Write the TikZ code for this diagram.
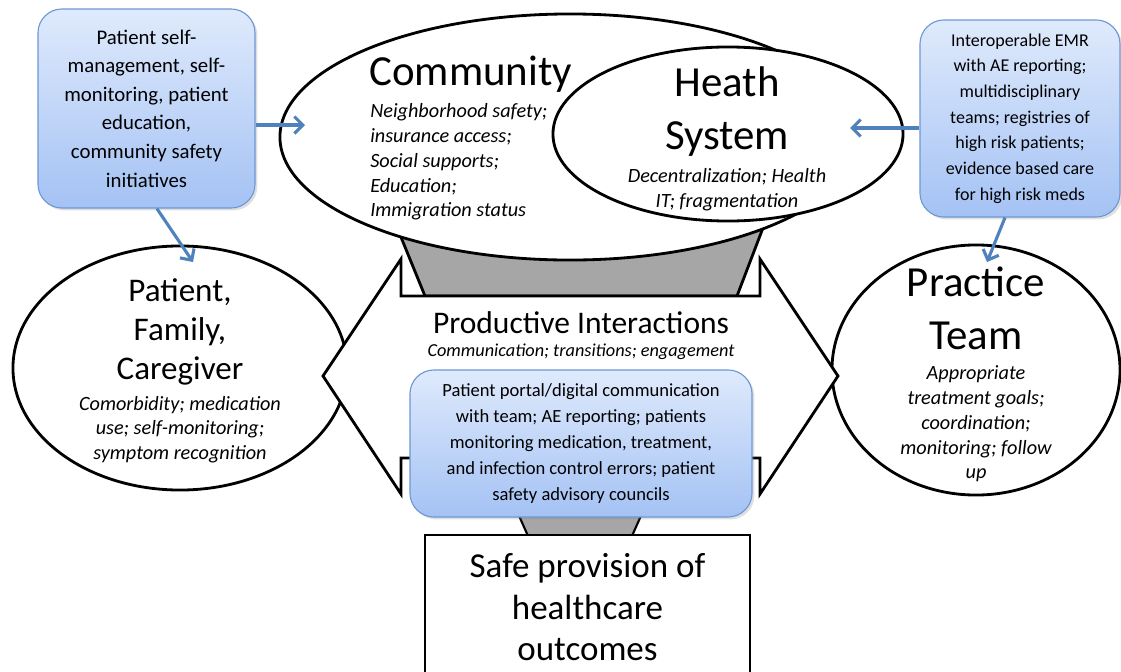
\documentclass[tikz,border=0pt]{standalone}
\usepackage{fontspec}
\setmainfont{Carlito}
\usetikzlibrary{shapes.geometric,arrows.meta,positioning,shadows}

\definecolor{boxtop}{RGB}{223,234,252}
\definecolor{boxbot}{RGB}{164,194,244}
\definecolor{boxline}{RGB}{110,152,212}
\definecolor{arrowblue}{RGB}{79,129,189}
\definecolor{funnel}{RGB}{166,166,166}

\tikzset{
	sphere/.style={draw, ellipse, line width=2pt, fill=white, inner sep=0pt},
	bluebox/.style={draw=boxline, line width=0.8pt, rounded corners=0.6cm, top color=boxtop, bottom color=boxbot, align=center, inner sep=2pt, drop shadow={opacity=0.25, shadow xshift=0.06cm, shadow yshift=-0.06cm}},
	bluearrow/.style={draw=arrowblue, line width=2.2pt, -{Straight Barb[length=6pt,width=12pt]}},
	bigtitle/.style={align=center, inner sep=0pt, font=\fontsize{30.5}{37.7}\selectfont},
	subtext/.style={align=center, inner sep=0pt, font=\fontsize{14.4}{17.6}\selectfont\itshape}
}

\begin{document}
\begin{tikzpicture}[x=0.025cm, y=-0.025cm]
%\draw [help lines,black!20!white] (0,0) grid[step=50] (1121,672);
\useasboundingbox (0,0) rectangle (1121,672);

\draw[line width=2pt, fill=funnel] (394,220) -- (425,296) -- (737,296) -- (766,220);
\draw[line width=1.5pt, fill=funnel] (512,500) -- (528,536) -- (632,536) -- (648,500);

\node[sphere, minimum width=14.5cm, minimum height=6.15cm] (comm) at (570,137) {};
\node[sphere, minimum width=8.75cm, minimum height=4.35cm] (hsys) at (728,134) {};
\node[sphere, minimum width=8.35cm, minimum height=6.1cm] (fam) at (180,368) {};
\node[sphere, minimum width=7.2cm, minimum height=6.25cm] (team) at (976,370) {};

\draw[line width=2pt, fill=white, line join=miter] (323,376) -- (401,259) -- (401,296) -- (760,296) -- (760,259) -- (838,376) -- (760,494) -- (760,458) -- (401,458) -- (401,494) -- cycle;

\node[bluebox, minimum width=8.55cm, minimum height=3.675cm, font=\fontsize{13.2}{18.5}\selectfont] (portal) at (581,443.5) {Patient portal/digital communication\\with team; AE reporting; patients\\monitoring medication, treatment,\\and infection control errors; patient\\safety advisory councils};
\node[draw, line width=2pt, fill=white, minimum width=8.125cm, minimum height=3.625cm, align=center, font=\fontsize{24.9}{29.5}\selectfont] (safe) at (587.5,607.5) {Safe provision of\\healthcare\\outcomes};

\node[bluebox, minimum width=5.425cm, minimum height=4.975cm, font=\fontsize{14.8}{20.3}\selectfont] (selfbox) at (146.5,108.5) {Patient self-\\management, self-\\monitoring, patient\\education,\\community safety\\initiatives};
\node[bluebox, minimum width=5cm, minimum height=4.925cm, font=\fontsize{12.8}{18.3}\selectfont] (emrbox) at (1020,118.5) {Interoperable EMR\\with AE reporting;\\multidisciplinary\\teams; registries of\\high risk patients;\\evidence based care\\for high risk meds};

\coordinate (commin) at (305,125);
\coordinate (famin) at (193,262);
\coordinate (hsin) at (850,128);
\coordinate (teamin) at (987,262);
\draw[bluearrow] (selfbox.east |- commin) -- (commin);
\draw[bluearrow] ([xshift=0.26cm]selfbox.south) -- (famin);
\draw[bluearrow] (emrbox.west |- hsin) -- (hsin);
\draw[bluearrow] ([xshift=-0.375cm]emrbox.south) -- (teamin);

\node[bigtitle, anchor=base west] (commtitle) at (369,85) {Community};
\node[subtext, align=left, anchor=west] (commsub) at (370,162) {Neighborhood safety;\\insurance access;\\Social supports;\\Education;\\Immigration status};
\node[bigtitle] (hstitle) at (727,111.5) {Heath\\System};
\node[subtext] (hssub) at (727,189.5) {Decentralization; Health\\IT; fragmentation};
\node[align=center, inner sep=0pt, font=\fontsize{23.5}{28}\selectfont] (famtitle) at (180,332) {Patient,\\Family,\\Caregiver};
\node[subtext] (famsub) at (180,429.5) {Comorbidity; medication\\use; self-monitoring;\\symptom recognition};
\node[bigtitle] (teamtitle) at (976,308.5) {Practice\\Team};
\node[subtext] (teamsub) at (976,424) {Appropriate\\treatment goals;\\coordination;\\monitoring; follow\\up};
\node[inner sep=0pt, font=\fontsize{22.4}{26}\selectfont] (prodtitle) at (581,323) {Productive Interactions};
\node[inner sep=0pt, font=\fontsize{13}{16}\selectfont\itshape] (prodsub) at (581,352) {Communication; transitions; engagement};

\end{tikzpicture}
\end{document}
